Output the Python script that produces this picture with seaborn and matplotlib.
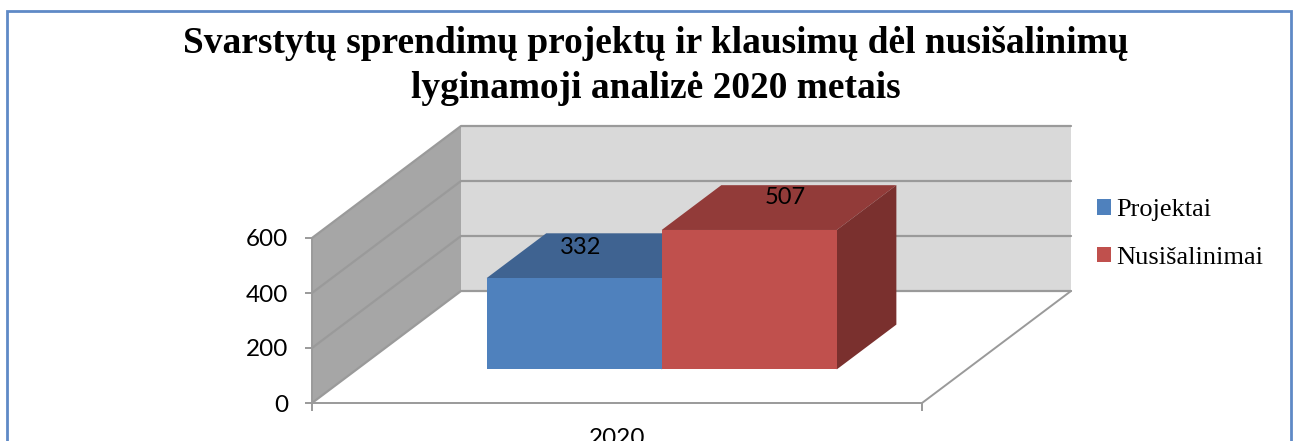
import matplotlib
matplotlib.use("Agg")
import matplotlib.pyplot as plt
from matplotlib.patches import Rectangle
import pandas as pd
import seaborn as sns

# Chart values
years = ["2020"]
series_names = ["Projektai", "Nusišalinimai"]
series_values = [332, 507]
y_ticks = [0, 200, 400, 600]
title_lines = ["Svarstytų sprendimų projektų ir klausimų dėl nusišalinimų",
               "lyginamoji analizė 2020 metais"]

# Colours: front, top, side of each bar
front_colors = ["#4F81BD", "#C0504D"]
top_colors = ["#3F6391", "#923B39"]
side_colors = ["#2F4B6E", "#7A302E"]

# Size of the fake 3D depth, in data units of the front plane
DEPTH_X = 149 / 610
DEPTH_Y = 112 / 165 * 600
BAR_NEAR = 0.30
BAR_FAR = 0.70


def proj(x, y, depth):
    # depth 0 is the front plane, depth 1 the back wall
    return x + depth * DEPTH_X, y + depth * DEPTH_Y


def face(ax, corners, color, zorder):
    pts = [proj(*c) for c in corners]
    ax.fill([p[0] for p in pts], [p[1] for p in pts], color=color, lw=0,
            zorder=zorder, clip_on=False)


sns.set_theme(style="white")
plt.rcParams["font.family"] = ["Lato", "DejaVu Sans"]

df = pd.DataFrame({
    "Metai": years * len(series_names),
    "Serija": series_names,
    "Kiekis": series_values,
})

fig = plt.figure(figsize=(12.99, 4.41), dpi=100)
ax = fig.add_axes([312 / 1299, 1 - 403 / 441, 610 / 1299, 165 / 441])
ax.patch.set_alpha(0)

sns.barplot(data=df, x="Metai", y="Kiekis", hue="Serija", hue_order=series_names,
            palette=front_colors, width=0.574, gap=0, saturation=1, linewidth=0, ax=ax)
ax.set_xlim(-0.5, 0.5)
ax.set_ylim(0, y_ticks[-1])

# Walls
x0, x1 = ax.get_xlim()
y0, y1 = ax.get_ylim()
face(ax, [(x0, y0, 1), (x1, y0, 1), (x1, y1, 1), (x0, y1, 1)], "#D9D9D9", 0)
face(ax, [(x0, y0, 0), (x0, y0, 1), (x0, y1, 1), (x0, y1, 0)], "#A6A6A6", 0)

# Gridlines run along the side wall and the back wall
grid_color = "#9A9A9A"
for tick in y_ticks:
    pts = [proj(x0, tick, 0), proj(x0, tick, 1), proj(x1, tick, 1)]
    ax.plot([p[0] for p in pts], [p[1] for p in pts], color=grid_color, lw=1.6,
            zorder=1, clip_on=False)
pts = [proj(x1, y0, 0), proj(x1, y0, 1)]
ax.plot([p[0] for p in pts], [p[1] for p in pts], color=grid_color, lw=1.4,
        zorder=1, clip_on=False)

# Move the bars seaborn drew back onto the floor and add their other faces
label_shift = [(6, 31), (36, 32)]
for i, container in enumerate(ax.containers):
    bar = container[0]
    left, width, height = bar.get_x(), bar.get_width(), bar.get_height()
    right = left + width
    z = 2 + i
    bx, by = proj(left, 0, BAR_NEAR)
    bar.set_xy((bx, by))
    bar.set_clip_on(False)
    bar.set_zorder(z + 0.5)
    face(ax, [(left, height, BAR_NEAR), (right, height, BAR_NEAR),
              (right, height, BAR_FAR), (left, height, BAR_FAR)], top_colors[i], z)
    face(ax, [(right, 0, BAR_NEAR), (right, 0, BAR_FAR),
              (right, height, BAR_FAR), (right, height, BAR_NEAR)], side_colors[i], z)
    lx, ly = proj(left + width / 2, height, BAR_NEAR)
    ax.annotate(str(series_values[i]), (lx, ly), xytext=label_shift[i],
                textcoords="offset pixels", ha="center", va="center",
                fontsize=17, color="black", zorder=6, annotation_clip=False)

# Axes
for side in ["top", "right"]:
    ax.spines[side].set_visible(False)
for side in ["left", "bottom"]:
    ax.spines[side].set_color(grid_color)
    ax.spines[side].set_linewidth(1.4)
    ax.spines[side].set_zorder(5)
ax.set_xlabel("")
ax.set_ylabel("")
ax.set_yticks(y_ticks)
ax.tick_params(axis="y", left=True, length=5, width=1.4, color=grid_color,
               labelsize=17.5, labelcolor="black", pad=12)
ax.set_xticks([x0, x1], minor=True)
ax.tick_params(axis="x", which="minor", bottom=True, length=5.5, width=1.4,
               color=grid_color)
ax.tick_params(axis="x", which="major", bottom=False, labelsize=17.5,
               labelcolor="black", pad=12)

# Legend
ax.legend(loc="upper left", bbox_to_anchor=(1097 / 1299, 1 - 199 / 441),
          bbox_transform=fig.transFigure, frameon=False, handlelength=0.53,
          handleheight=0.53, handletextpad=0.19, labelspacing=0.97, borderpad=0,
          borderaxespad=0, prop={"family": "Liberation Serif", "size": 19},
          labelcolor="black")

# Title
for line, y_px in zip(title_lines, [53, 98]):
    fig.text(655.5 / 1299, 1 - y_px / 441, line, ha="center", va="baseline",
             family="Liberation Serif", weight="bold", fontsize=26.9, color="black")

# Blue frame round the chart, its lower edge is cut off by the picture
fig.add_artist(Rectangle((7 / 1299, -0.1), 1284 / 1299, 1.1 - 11 / 441,
                         transform=fig.transFigure, fill=False,
                         edgecolor="#5F8AC6", lw=2.0))

fig.savefig("out.png", dpi=100)
